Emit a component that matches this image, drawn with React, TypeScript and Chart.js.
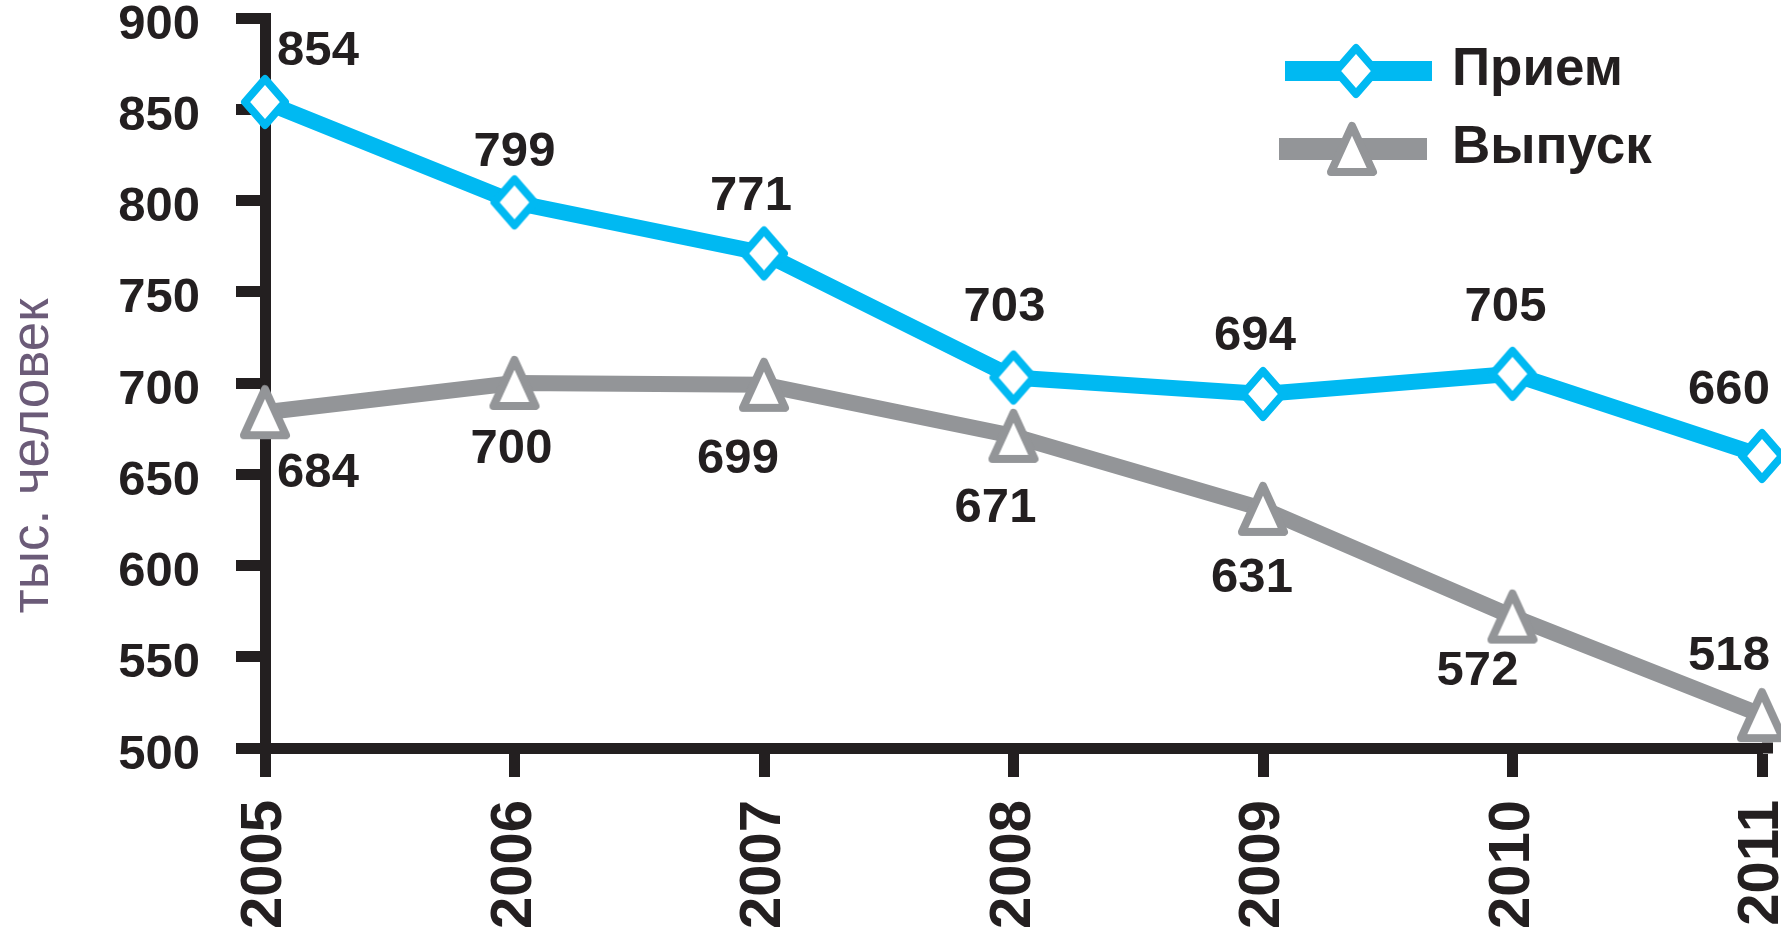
import React, { useEffect, useRef } from "react";
import { Chart, registerables } from "chart.js";

Chart.register(...registerables);

// ---- data ----
const years = ["2005", "2006", "2007", "2008", "2009", "2010", "2011"];
const intakeValues = [854, 799, 771, 703, 694, 705, 660];
const graduateValues = [684, 700, 699, 671, 631, 572, 518];
const yTickValues = [500, 550, 600, 650, 700, 750, 800, 850, 900];
const seriesNames = ["Прием", "Выпуск"];
const yAxisTitle = "тыс. человек";

// ---- styling ----
const CYAN = "#00b9f2";
const GRAY = "#939598";
const INK = "#231f20";
const TITLE_COLOR = "#6b5b78";
const FONT = "'Liberation Sans', Arial, sans-serif";

// label offsets (px) relative to each point
const intakeLabelOffsets = [[53, -50], [0, -50], [-13, -57], [-9, -70], [-8, -57], [-7, -66], [-33, -66]];
const graduateLabelOffsets = [[53, 61], [-3, 66], [-26, 75], [-18, 73], [-11, 70], [-35, 55], [-33, -59]];

function makeDiamond(color: string) {
  const hw = 20, hh = 23, lw = 8;
  const c = document.createElement("canvas");
  c.width = 2 * hw + 2 * lw + 4;
  c.height = 2 * hh + 2 * lw + 4;
  const ctx = c.getContext("2d")!;
  const cx = c.width / 2, cy = c.height / 2;
  ctx.beginPath();
  ctx.moveTo(cx, cy - hh);
  ctx.lineTo(cx + hw, cy);
  ctx.lineTo(cx, cy + hh);
  ctx.lineTo(cx - hw, cy);
  ctx.closePath();
  ctx.fillStyle = "#fff";
  ctx.fill();
  ctx.lineWidth = lw;
  ctx.lineJoin = "round";
  ctx.strokeStyle = color;
  ctx.stroke();
  return c;
}

function makeTriangle(color: string) {
  const hw = 21, h = 46, lw = 8;
  const c = document.createElement("canvas");
  c.width = 2 * hw + 2 * lw + 4;
  c.height = h + 2 * lw + 4;
  const ctx = c.getContext("2d")!;
  const cx = c.width / 2, cy = c.height / 2;
  ctx.beginPath();
  ctx.moveTo(cx, cy - h / 2);
  ctx.lineTo(cx + hw, cy + h / 2);
  ctx.lineTo(cx - hw, cy + h / 2);
  ctx.closePath();
  ctx.fillStyle = "#fff";
  ctx.fill();
  ctx.lineWidth = lw;
  ctx.lineJoin = "round";
  ctx.strokeStyle = color;
  ctx.stroke();
  return c;
}

export default function App() {
  const ref = useRef<HTMLCanvasElement>(null);

  useEffect(() => {
    document.body.style.margin = "0";
    document.body.style.overflow = "hidden";
    const canvas = ref.current!;
    const diamond = makeDiamond(CYAN);
    const triangle = makeTriangle(GRAY);
    const markers = [diamond, triangle];
    const offsets = [intakeLabelOffsets, graduateLabelOffsets];

    const overlay = {
      id: "overlay",
      beforeDatasetsDraw(chart: any) {
        // small extension of the x-axis line past the last category
        const ctx = chart.ctx as CanvasRenderingContext2D;
        const a = chart.chartArea;
        ctx.save();
        ctx.fillStyle = INK;
        ctx.fillRect(a.right, a.bottom - 5.5, 11, 11);
        ctx.restore();
      },
      afterDatasetsDraw(chart: any) {
        const ctx = chart.ctx as CanvasRenderingContext2D;
        ctx.save();
        // data labels
        chart.data.datasets.forEach((ds: any, di: number) => {
          const meta = chart.getDatasetMeta(di);
          meta.data.forEach((pt: any, i: number) => {
            ctx.font = `bold 49px ${FONT}`;
            ctx.fillStyle = INK;
            ctx.textAlign = "center";
            ctx.textBaseline = "middle";
            ctx.fillText(String(ds.data[i]), pt.x + offsets[di][i][0], pt.y + offsets[di][i][1]);
          });
        });
        // legend
        const legendRows = [
          { y: 71, x1: 1285, x2: 1432, mx: 1356, lw: 20 },
          { y: 149, x1: 1279, x2: 1427, mx: 1352, lw: 22 },
        ];
        chart.data.datasets.forEach((ds: any, di: number) => {
          const r = legendRows[di];
          ctx.beginPath();
          ctx.moveTo(r.x1, r.y);
          ctx.lineTo(r.x2, r.y);
          ctx.lineWidth = r.lw;
          ctx.strokeStyle = ds.borderColor;
          ctx.lineCap = "butt";
          ctx.stroke();
          const m = markers[di];
          ctx.drawImage(m, r.mx - m.width / 2, r.y - m.height / 2);
          ctx.font = `bold 53px ${FONT}`;
          ctx.fillStyle = INK;
          ctx.textAlign = "left";
          ctx.textBaseline = "middle";
          ctx.fillText(ds.label, 1452, r.y - 1);
        });
        // y-axis title
        ctx.translate(33, 456);
        ctx.rotate(-Math.PI / 2);
        ctx.font = `53px ${FONT}`;
        ctx.fillStyle = TITLE_COLOR;
        ctx.textAlign = "center";
        ctx.textBaseline = "middle";
        ctx.fillText(yAxisTitle, 0, 0);
        ctx.restore();
      },
    };

    const chart = new Chart(canvas, {
      type: "line",
      data: {
        labels: years,
        datasets: [
          {
            label: seriesNames[0],
            data: intakeValues,
            borderColor: CYAN,
            backgroundColor: CYAN,
            borderWidth: 16,
            pointStyle: diamond as any,
            pointRadius: 24,
            tension: 0,
            clip: false as any,
          },
          {
            label: seriesNames[1],
            data: graduateValues,
            borderColor: GRAY,
            backgroundColor: GRAY,
            borderWidth: 16,
            pointStyle: triangle as any,
            pointRadius: 24,
            tension: 0,
            clip: false as any,
          },
        ],
      },
      options: {
        responsive: false,
        animation: false,
        devicePixelRatio: 1,
        layout: { autoPadding: false, padding: { top: 18, right: 19, left: 0, bottom: 0 } },
        plugins: {
          legend: { display: false },
          tooltip: { enabled: false },
        },
        events: [],
        scales: {
          x: {
            type: "category",
            offset: false,
            grid: {
              display: true,
              drawOnChartArea: false,
              drawTicks: true,
              tickLength: 29,
              tickWidth: 11,
              tickColor: INK,
            },
            border: { display: true, color: INK, width: 11 },
            ticks: {
              autoSkip: false,
              maxRotation: 90,
              minRotation: 90,
              padding: 23,
              color: INK,
              font: { family: FONT, size: 58, weight: "bold" },
            },
            afterFit: (s: any) => {
              s.height = 929 - 748;
              s.paddingLeft = 0;
              s.paddingRight = 0;
            },
          },
          y: {
            min: 500,
            max: 900,
            grid: {
              display: true,
              drawOnChartArea: false,
              drawTicks: true,
              tickLength: 29,
              tickWidth: 11,
              tickColor: INK,
            },
            border: { display: true, color: INK, width: 11 },
            afterBuildTicks: (s: any) => {
              s.ticks = yTickValues.map((v) => ({ value: v }));
            },
            ticks: {
              padding: 36,
              labelOffset: 7,
              color: INK,
              font: { family: FONT, size: 49, weight: "bold" },
            },
            afterFit: (s: any) => {
              s.width = 265;
              s.paddingTop = 0;
              s.paddingBottom = 0;
            },
          },
        },
      },
      plugins: [overlay],
    });
    return () => chart.destroy();
  }, []);

  return (
    <div style={{ width: 1781, height: 929, overflow: "hidden", background: "#fff" }}>
      <canvas ref={ref} width={1781} height={929} style={{ display: "block" }} />
    </div>
  );
}
